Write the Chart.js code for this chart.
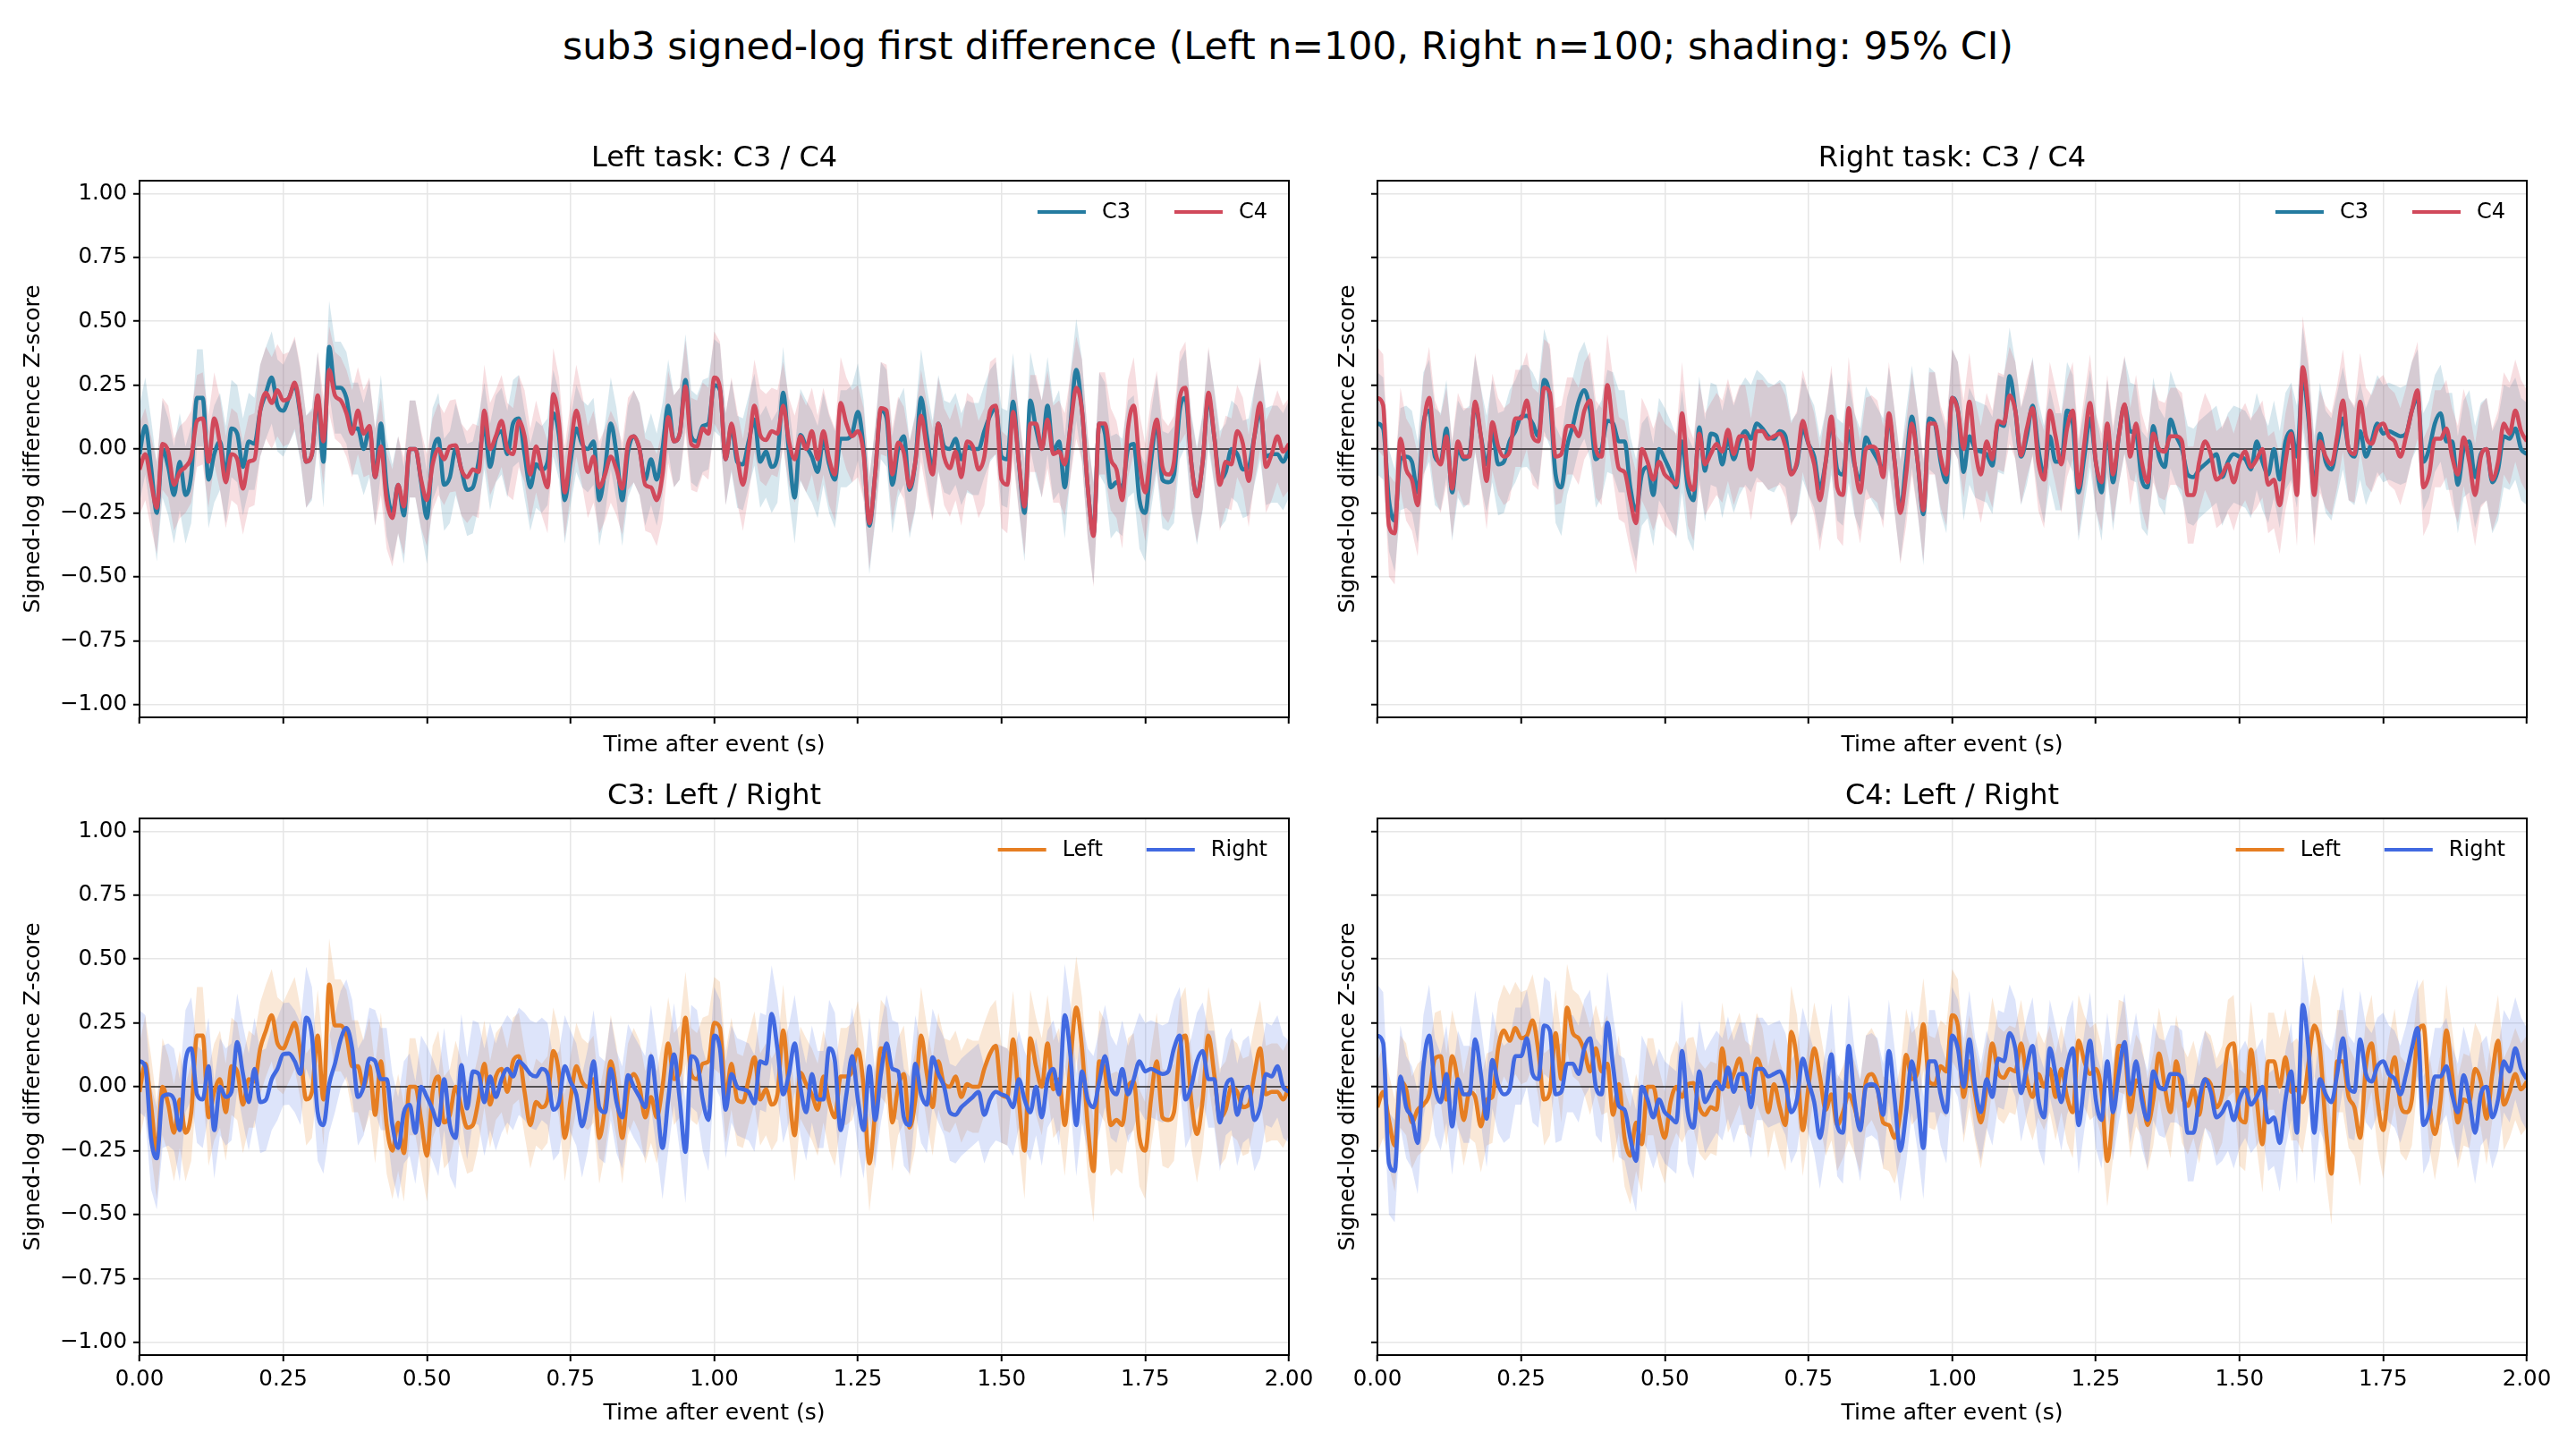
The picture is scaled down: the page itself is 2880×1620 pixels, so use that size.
<!DOCTYPE html>
<html>
<head>
<meta charset="utf-8">
<script src="https://cdn.jsdelivr.net/npm/chart.js@4.4.1/dist/chart.umd.min.js"></script>
<style>
	html, body { margin: 0; padding: 0; background: #fff; }
	body { width: 2880px; height: 1620px; position: relative; overflow: hidden; font-family: "DejaVu Sans", sans-serif; }
	#suptitle { position: absolute; left: 0; top: 26px; width: 2880px; text-align: center; font-size: 42.7px; line-height: 50px; color: #000; }
	canvas { position: absolute; }
</style>
</head>
<body>
<div id="suptitle">sub3 signed-log first difference (Left n=100, Right n=100; shading: 95% CI)</div>
<canvas id="tl"></canvas>
<canvas id="tr"></canvas>
<canvas id="bl"></canvas>
<canvas id="br"></canvas>
<script>
// sample clock: 0 .. 2 s every 10 ms
const TIME = Array.from({ length: 201 }, (_, i) => +(i * 0.01).toFixed(2))
const X_TICKS = [0, 0.25, 0.5, 0.75, 1, 1.25, 1.5, 1.75, 2]
const Y_TICKS = [-1, -0.75, -0.5, -0.25, 0, 0.25, 0.5, 0.75, 1]

// mean signed-log difference, Left task
const C3_LEFT = [
	-0.02, 0.09, -0.07, -0.25, 0.00, -0.07, -0.18, -0.05, -0.18, -0.10,
	0.20, 0.20, -0.12, -0.02, 0.03, -0.10, 0.08, 0.06, -0.07, 0.03,
	0.02, 0.15, 0.22, 0.28, 0.17, 0.15, 0.20, 0.25, 0.13, -0.05,
	-0.02, 0.20, -0.05, 0.40, 0.24, 0.24, 0.20, 0.08, 0.08, 0.00,
	0.08, -0.11, 0.10, -0.15, -0.25, -0.14, -0.26, 0.00, 0.00, -0.13,
	-0.27, -0.02, 0.04, -0.14, -0.11, 0.00, -0.08, -0.16, -0.15, -0.05,
	0.09, -0.07, 0.04, 0.07, -0.02, 0.10, 0.12, -0.02, -0.15, -0.06,
	-0.08, -0.05, 0.14, 0.05, -0.20, -0.05, 0.08, 0.02, 0.00, 0.03,
	-0.20, -0.08, 0.10, -0.02, -0.20, -0.01, 0.05, 0.00, -0.12, -0.04,
	-0.12, 0.00, 0.17, 0.03, 0.06, 0.27, 0.05, 0.03, 0.09, 0.10,
	0.25, 0.23, -0.04, 0.09, -0.05, -0.06, 0.03, 0.115, -0.05, -0.01,
	-0.07, -0.03, 0.22, -0.01, -0.19, 0.055, 0.01, -0.03, -0.09, 0.04,
	-0.06, -0.12, 0.04, 0.04, 0.06, 0.145, 0.00, -0.30, -0.10, 0.15,
	0.12, -0.14, 0.00, 0.05, -0.16, -0.05, 0.20, 0.05, -0.08, 0.10,
	0.01, 0.00, 0.04, -0.04, 0.01, 0.00, 0.00, 0.07, 0.13, 0.16,
	-0.03, -0.04, 0.185, -0.05, -0.25, 0.19, 0.08, 0.00, 0.17, -0.01,
	0.03, -0.15, 0.10, 0.31, 0.15, -0.15, -0.33, 0.10, 0.06, -0.15,
	-0.13, -0.15, 0.00, 0.02, -0.20, -0.25, -0.05, 0.10, -0.12, -0.13,
	-0.10, 0.15, 0.20, -0.05, -0.185, -0.05, 0.20, 0.05, -0.12, -0.09,
	0.00, -0.02, -0.08, -0.07, 0.05, 0.15, -0.03, -0.02, -0.02, -0.05,
	0.00,
]
const C4_LEFT = [
	-0.08, -0.02, -0.13, -0.23, 0.02, -0.01, -0.14, -0.09, -0.07, -0.03,
	0.11, 0.12, -0.05, 0.12, 0.02, -0.13, -0.02, -0.04, -0.155, -0.05,
	-0.04, 0.15, 0.22, 0.18, 0.23, 0.19, 0.20, 0.26, 0.14, -0.05,
	-0.02, 0.21, 0.03, 0.31, 0.21, 0.19, 0.14, 0.06, 0.15, 0.06,
	0.09, -0.11, 0.01, -0.20, -0.27, -0.14, -0.225, 0.00, 0.00, -0.12,
	-0.20, -0.06, 0.00, -0.04, 0.01, 0.015, -0.08, -0.11, -0.08, -0.09,
	0.15, 0.00, 0.05, 0.11, 0.00, -0.02, 0.11, 0.05, -0.10, 0.01,
	-0.08, -0.15, 0.215, 0.10, -0.17, 0.00, 0.15, 0.04, -0.09, -0.03,
	-0.15, -0.10, -0.03, -0.08, -0.155, 0.02, 0.05, 0.00, -0.14, -0.15,
	-0.20, -0.10, 0.125, 0.03, 0.06, 0.245, 0.02, 0.01, 0.08, 0.06,
	0.28, 0.24, -0.04, 0.10, -0.03, -0.14, 0.00, 0.17, 0.055, 0.035,
	0.07, 0.06, 0.17, 0.03, -0.04, 0.05, 0.00, 0.07, -0.04, 0.07,
	-0.04, -0.10, 0.18, 0.10, 0.05, 0.07, -0.02, -0.29, -0.10, 0.16,
	0.15, -0.10, 0.025, -0.015, -0.15, -0.05, 0.13, 0.00, -0.10, 0.10,
	-0.03, -0.075, -0.01, -0.11, 0.03, 0.01, -0.08, -0.03, 0.15, 0.17,
	-0.12, -0.14, 0.145, -0.05, -0.225, 0.10, 0.10, 0.00, 0.115, -0.02,
	-0.01, -0.06, 0.09, 0.24, 0.15, -0.15, -0.34, 0.10, 0.10, -0.04,
	-0.08, -0.20, 0.08, 0.17, -0.05, -0.17, 0.00, 0.115, -0.07, -0.10,
	-0.05, 0.20, 0.24, -0.05, -0.185, -0.05, 0.22, 0.05, -0.14, -0.05,
	-0.06, 0.07, 0.02, -0.125, 0.05, 0.18, -0.07, -0.02, 0.05, -0.01,
	0.02,
]

// mean signed-log difference, Right task
const C3_RIGHT = [
	0.10, 0.08, -0.20, -0.28, -0.04, -0.03, -0.05, -0.17, 0.10, 0.15,
	-0.03, -0.05, 0.08, -0.17, 0.00, -0.04, -0.02, 0.175, 0.05, -0.06,
	0.07, -0.06, -0.05, 0.03, 0.07, 0.127, 0.13, 0.10, 0.05, 0.27,
	0.20, -0.10, -0.15, 0.01, 0.09, 0.185, 0.23, 0.15, -0.04, 0.00,
	0.11, 0.10, 0.03, 0.03, -0.15, -0.24, -0.10, -0.07, -0.18, 0.00,
	-0.04, -0.09, -0.15, 0.03, -0.15, -0.20, 0.085, -0.085, 0.06, 0.05,
	-0.06, 0.04, -0.04, 0.03, 0.07, 0.04, 0.10, 0.08, 0.05, 0.04,
	0.07, 0.05, -0.09, -0.06, 0.08, 0.02, -0.03, -0.155, -0.05, 0.10,
	-0.08, -0.10, 0.07, -0.06, -0.12, 0.045, 0.00, -0.04, -0.08, 0.12,
	-0.05, -0.24, -0.05, 0.127, -0.05, -0.255, 0.12, 0.10, -0.05, -0.13,
	0.20, 0.15, -0.09, 0.05, 0.00, -0.01, -0.02, -0.065, 0.10, 0.09,
	0.285, 0.15, -0.03, 0.05, 0.17, 0.00, -0.10, 0.05, -0.05, -0.05,
	0.15, 0.10, -0.17, -0.03, 0.12, -0.05, -0.17, 0.08, -0.13, 0.05,
	0.17, 0.07, 0.06, -0.12, -0.15, 0.09, -0.03, -0.07, 0.115, 0.05,
	0.00, -0.10, -0.11, -0.08, -0.06, -0.04, -0.02, -0.11, -0.05, -0.02,
	-0.03, -0.04, -0.08, 0.03, -0.05, -0.10, 0.00, -0.12, 0.03, 0.07,
	-0.03, 0.28, 0.12, -0.15, 0.06, -0.05, -0.08, 0.02, 0.12, 0.00,
	-0.03, 0.07, -0.03, 0.03, 0.10, 0.06, 0.07, 0.06, 0.05, 0.06,
	0.15, 0.20, -0.05, 0.00, 0.10, 0.14, 0.03, 0.03, -0.14, 0.00,
	0.03, -0.11, -0.02, 0.00, -0.13, -0.08, 0.05, 0.04, 0.08, 0.00,
	-0.02,
]
const C4_RIGHT = [
	0.20, 0.17, -0.30, -0.33, 0.04, -0.08, -0.12, -0.22, 0.08, 0.20,
	0.00, -0.06, 0.05, -0.155, 0.03, -0.03, -0.03, 0.185, 0.05, -0.125,
	0.105, 0.01, -0.03, -0.01, 0.12, 0.12, 0.19, 0.05, 0.03, 0.24,
	0.22, -0.03, -0.02, 0.09, 0.09, 0.05, 0.15, 0.19, 0.00, -0.03,
	0.25, 0.08, -0.075, -0.09, -0.20, -0.29, 0.00, -0.05, -0.12, -0.05,
	-0.10, -0.12, -0.14, 0.14, -0.10, -0.16, 0.06, -0.06, -0.02, 0.02,
	-0.01, 0.075, -0.02, 0.05, 0.05, -0.08, 0.07, 0.07, 0.04, 0.05,
	0.06, 0.01, -0.10, -0.05, 0.11, 0.02, -0.06, -0.20, -0.05, 0.127,
	-0.15, -0.18, 0.16, -0.05, -0.17, 0.00, 0.01, -0.01, -0.11, 0.14,
	-0.05, -0.25, -0.10, 0.10, -0.05, -0.24, 0.10, 0.10, -0.03, -0.10,
	0.20, 0.15, 0.00, 0.185, 0.00, -0.10, 0.03, -0.04, 0.11, 0.10,
	0.21, 0.15, -0.025, 0.08, 0.16, -0.05, -0.12, 0.15, 0.05, -0.06,
	0.08, 0.15, -0.15, 0.02, 0.18, -0.05, -0.13, 0.10, -0.10, 0.05,
	0.175, -0.03, 0.10, -0.05, -0.13, 0.06, 0.00, -0.01, 0.05, 0.05,
	0.03, -0.18, -0.18, -0.05, 0.03, -0.02, -0.12, -0.10, -0.06, -0.13,
	-0.05, -0.01, -0.07, -0.04, 0.00, -0.14, -0.12, -0.22, -0.05, 0.06,
	-0.18, 0.32, 0.15, -0.18, 0.03, -0.03, -0.06, 0.05, 0.19, 0.00,
	-0.02, 0.185, 0.05, 0.02, 0.08, 0.10, 0.05, 0.03, -0.03, 0.05,
	0.15, 0.23, -0.15, -0.10, 0.04, 0.04, 0.08, -0.03, -0.10, 0.045,
	-0.05, -0.18, -0.03, 0.00, -0.12, -0.05, 0.10, 0.06, 0.15, 0.07,
	0.03,
]

// 95% CI half-width, one value per 0.1 s block
const HW_C3_LEFT = [0.19, 0.19, 0.18, 0.18, 0.19, 0.18, 0.17, 0.17, 0.18, 0.18, 0.18, 0.18, 0.19, 0.19, 0.18, 0.19, 0.20, 0.19, 0.19, 0.19]
const HW_C4_LEFT = [0.18, 0.18, 0.18, 0.17, 0.19, 0.18, 0.18, 0.18, 0.18, 0.18, 0.18, 0.17, 0.18, 0.18, 0.19, 0.19, 0.20, 0.19, 0.18, 0.18]
const HW_C3_RIGHT = [0.20, 0.19, 0.20, 0.19, 0.20, 0.20, 0.21, 0.20, 0.20, 0.20, 0.19, 0.19, 0.19, 0.19, 0.19, 0.19, 0.20, 0.19, 0.19, 0.20]
const HW_C4_RIGHT = [0.20, 0.19, 0.19, 0.19, 0.20, 0.20, 0.20, 0.20, 0.20, 0.20, 0.19, 0.19, 0.19, 0.19, 0.19, 0.19, 0.20, 0.19, 0.19, 0.20]

const FONT = "DejaVu Sans"
const C3_COLOR = "#247ba0"
const C4_COLOR = "#d1495b"
const LEFT_COLOR = "#e67e22"
const RIGHT_COLOR = "#4169e1"

Chart.defaults.font.family = FONT
Chart.defaults.color = "#000"

const rgba = (hex, a) => {
	const n = parseInt(hex.slice(1), 16)
	return `rgba(${n >> 16}, ${(n >> 8) & 255}, ${n & 255}, ${a})`
}
const blockOf = (hw, i) => hw[Math.min(hw.length - 1, Math.floor(i / 10))]
const fmt = (v) => (v < -1e-9 ? "\u2212" : "") + Math.abs(v).toFixed(2)

const panels = [
	{ id: "tl", left: 0, top: 150, width: 1470, axisW: 156, padRight: 29, bottomRow: false, yLabels: true,
		title: "Left task: C3 / C4",
		series: [
			{ label: "C3", mean: C3_LEFT, hw: HW_C3_LEFT, color: C3_COLOR },
			{ label: "C4", mean: C4_LEFT, hw: HW_C4_LEFT, color: C4_COLOR },
		] },
	{ id: "tr", left: 1470, top: 150, width: 1410, axisW: 70, padRight: 55, bottomRow: false, yLabels: false,
		title: "Right task: C3 / C4",
		series: [
			{ label: "C3", mean: C3_RIGHT, hw: HW_C3_RIGHT, color: C3_COLOR },
			{ label: "C4", mean: C4_RIGHT, hw: HW_C4_RIGHT, color: C4_COLOR },
		] },
	{ id: "bl", left: 0, top: 863, width: 1470, axisW: 156, padRight: 29, bottomRow: true, yLabels: true,
		title: "C3: Left / Right",
		series: [
			{ label: "Left", mean: C3_LEFT, hw: HW_C3_LEFT, color: LEFT_COLOR },
			{ label: "Right", mean: C3_RIGHT, hw: HW_C3_RIGHT, color: RIGHT_COLOR },
		] },
	{ id: "br", left: 1470, top: 863, width: 1410, axisW: 70, padRight: 55, bottomRow: true, yLabels: false,
		title: "C4: Left / Right",
		series: [
			{ label: "Left", mean: C4_LEFT, hw: HW_C4_LEFT, color: LEFT_COLOR },
			{ label: "Right", mean: C4_RIGHT, hw: HW_C4_RIGHT, color: RIGHT_COLOR },
		] },
]

// frame, subplot title and in-axes legend
const panelDecor = {
	id: "panelDecor",
	afterDatasetsDraw(chart, args, opts) {
		const { ctx, chartArea: a } = chart
		ctx.save()
		ctx.strokeStyle = "#000"
		ctx.lineWidth = 2
		ctx.strokeRect(a.left, a.top, a.right - a.left, a.bottom - a.top)

		ctx.fillStyle = "#000"
		ctx.font = `32px "${FONT}"`
		ctx.textAlign = "center"
		ctx.textBaseline = "middle"
		ctx.fillText(opts.title, (a.left + a.right) / 2, a.top - 24)

		ctx.font = `24px "${FONT}"`
		ctx.textAlign = "left"
		const LINE = 54, GAP = 18, SPACE = 49
		const widths = opts.items.map((it) => LINE + GAP + ctx.measureText(it.label).width)
		const total = widths.reduce((s, w) => s + w, 0) + SPACE * (opts.items.length - 1)
		let x = a.right - 24 - total
		const y = a.top + 35
		opts.items.forEach((it, k) => {
			ctx.strokeStyle = it.color
			ctx.lineWidth = 4.2
			ctx.beginPath()
			ctx.moveTo(x, y)
			ctx.lineTo(x + LINE, y)
			ctx.stroke()
			ctx.fillText(it.label, x + LINE + GAP, y + 1)
			x += widths[k] + SPACE
		})
		ctx.restore()
	},
}

panels.forEach((p) => {
	const canvas = document.getElementById(p.id)
	const height = 52 + 600 + (p.bottomRow ? 80 : 46)
	canvas.width = p.width
	canvas.height = height
	canvas.style.left = p.left + "px"
	canvas.style.top = p.top + "px"

	const datasets = []
	const [s1, s2] = p.series
	// bands (drawn first), upper followed by lower
	;[[s1, 6], [s2, 5]].forEach(([s, order]) => {
		datasets.push({
			data: s.mean.map((y, i) => ({ x: TIME[i], y: y + blockOf(s.hw, i) })),
			borderColor: "rgba(0,0,0,0)", borderWidth: 0, pointRadius: 0,
			backgroundColor: rgba(s.color, 0.18), fill: "+1", order,
		})
		datasets.push({
			data: s.mean.map((y, i) => ({ x: TIME[i], y: y - blockOf(s.hw, i) })),
			borderColor: "rgba(0,0,0,0)", borderWidth: 0, pointRadius: 0,
			fill: false, order,
		})
	})
	datasets.push({
		data: [{ x: 0, y: 0 }, { x: 2, y: 0 }],
		borderColor: "rgba(0,0,0,0.6)", borderWidth: 2, pointRadius: 0, fill: false, order: 3,
	})
	;[[s1, 2], [s2, 1]].forEach(([s, order]) => {
		datasets.push({
			data: s.mean.map((y, i) => ({ x: TIME[i], y })),
			borderColor: s.color, backgroundColor: s.color, borderWidth: 4.6,
			pointRadius: 0, fill: false, cubicInterpolationMode: "monotone",
			borderJoinStyle: "round", order,
		})
	})

	const grid = { color: "#e6e6e6", lineWidth: 1.5, tickColor: "#000", tickWidth: 2, tickLength: 7 }

	new Chart(canvas, {
		type: "line",
		data: { datasets },
		options: {
			responsive: false,
			animation: false,
			devicePixelRatio: 1,
			events: [],
			layout: { padding: { top: 52, right: p.padRight, left: 0, bottom: 0 } },
			plugins: {
				legend: { display: false },
				tooltip: { enabled: false },
				panelDecor: { title: p.title, items: p.series.map((s) => ({ label: s.label, color: s.color })) },
			},
			scales: {
				x: {
					type: "linear", min: 0, max: 2,
					afterBuildTicks: (s) => { s.ticks = X_TICKS.map((v) => ({ value: v })) },
					afterFit: (s) => {
						s.height = p.bottomRow ? 80 : 46
						s.paddingLeft = 0
						s.paddingRight = 0
					},
					ticks: { display: p.bottomRow, callback: (v) => fmt(v), font: { size: 24.5 }, padding: 6, maxRotation: 0, autoSkip: false },
					grid,
					border: { display: false },
					title: { display: true, text: "Time after event (s)", font: { size: 25 }, padding: { top: 0, bottom: 0 } },
				},
				y: {
					type: "linear", min: -1.05, max: 1.05,
					afterBuildTicks: (s) => { s.ticks = Y_TICKS.map((v) => ({ value: v })) },
					afterFit: (s) => {
						s.width = p.axisW
						s.paddingTop = 0
						s.paddingBottom = 0
					},
					ticks: { display: p.yLabels, callback: (v) => fmt(v), font: { size: 24.5 }, padding: 7, autoSkip: false },
					grid,
					border: { display: false },
					title: { display: true, text: "Signed-log difference Z-score", font: { size: 25 }, padding: { top: 22, bottom: 0 } },
				},
			},
		},
		plugins: [panelDecor],
	})
})
</script>
</body>
</html>
